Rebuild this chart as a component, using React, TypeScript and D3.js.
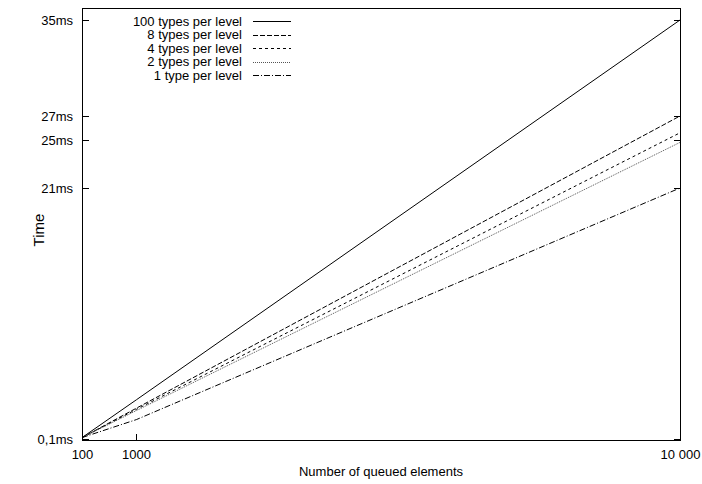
import React from "react";
import * as d3 from "d3";

const xValues = [100, 1000, 10000];
const seriesNames = [
  "100 types per level",
  "8 types per level",
  "4 types per level",
  "2 types per level",
  "1 type per level",
];
const s100 = [0.2, 3.35, 35];
const s8 = [0.2, 2.65, 27];
const s4 = [0.2, 2.55, 25.6];
const s2 = [0.2, 2.45, 24.8];
const s1 = [0.2, 1.7, 21];
const seriesValues = [s100, s8, s4, s2, s1];
const xTicks = [100, 1000, 10000];
const xTickLabels = ["100", "1000", "10 000"];
const yTicks = [0.1, 21, 25, 27, 35];
const yTickLabels = ["0,1ms", "21ms", "25ms", "27ms", "35ms"];

const styles = [
  { dash: "none", color: "#000" },
  { dash: "5,2", color: "#000" },
  { dash: "3,3", color: "#000" },
  { dash: "1,1", color: "#555" },
  { dash: "6,2,1,2", color: "#000" },
];

const W = 702;
const H = 484;
const L = 82;
const R = 680;
const T = 8;
const B = 440;
const FONT = "'Liberation Sans', Arial, Helvetica, sans-serif";

export default function App() {
  const x = d3.scaleLinear().domain([100, 10000]).range([L, R]);
  const y = d3.scaleLinear().domain([0, 36]).range([B, T]);
  const line = d3
    .line<number>()
    .x((_, i) => x(xValues[i]))
    .y((d) => y(d));

  return (
    <svg
      width={W}
      height={H}
      style={{ position: "absolute", left: 0, top: 0, background: "#fff" }}
      fontFamily={FONT}
    >
      <rect x={0} y={0} width={W} height={H} fill="#fff" />
      <defs>
        <clipPath id="clip">
          <rect x={L} y={T} width={R - L} height={B - T} />
        </clipPath>
      </defs>
      {/* series */}
      <g clipPath="url(#clip)">
        {seriesValues.map((vals, i) => (
          <path
            key={i}
            d={line(vals) || ""}
            fill="none"
            stroke={styles[i].color}
            strokeWidth={1}
            strokeDasharray={styles[i].dash}
          />
        ))}
      </g>
      {/* frame */}
      <rect
        x={L + 0.5}
        y={T + 0.5}
        width={R - L}
        height={B - T}
        fill="none"
        stroke="#000"
        strokeWidth={1}
      />
      {/* y ticks */}
      {yTicks.map((t, i) => {
        const yy = Math.round(y(t)) + 0.5;
        return (
          <g key={"y" + i}>
            <line x1={L} x2={L + 7} y1={yy} y2={yy} stroke="#000" />
            <line x1={R + 1} x2={R - 6} y1={yy} y2={yy} stroke="#000" />
            <text
              x={L - 9}
              y={yy}
              textAnchor="end"
              dominantBaseline="central"
              fontSize={13}
            >
              {yTickLabels[i]}
            </text>
          </g>
        );
      })}
      {/* x ticks */}
      {xTicks.map((t, i) => {
        const xx = Math.round(x(t)) + 0.5;
        return (
          <g key={"x" + i}>
            <line x1={xx} x2={xx} y1={B} y2={B - 6} stroke="#000" />
            <text
              x={xx}
              y={454}
              textAnchor="middle"
              dominantBaseline="central"
              fontSize={13}
            >
              {xTickLabels[i]}
            </text>
          </g>
        );
      })}
      {/* axis labels */}
      <text
        x={(L + R) / 2}
        y={471}
        textAnchor="middle"
        dominantBaseline="central"
        fontSize={13}
      >
        Number of queued elements
      </text>
      <text
        transform={`translate(38,230) rotate(-90)`}
        textAnchor="middle"
        dominantBaseline="central"
        fontSize={15}
      >
        Time
      </text>
      {/* legend */}
      {seriesNames.map((name, i) => {
        const yy = 21 + i * 13.6;
        return (
          <g key={"l" + i}>
            <text
              x={242}
              y={yy}
              textAnchor="end"
              dominantBaseline="central"
              fontSize={13}
            >
              {name}
            </text>
            <line
              x1={253}
              x2={291}
              y1={Math.round(yy) + 0.5}
              y2={Math.round(yy) + 0.5}
              stroke={styles[i].color}
              strokeDasharray={styles[i].dash}
            />
          </g>
        );
      })}
    </svg>
  );
}
